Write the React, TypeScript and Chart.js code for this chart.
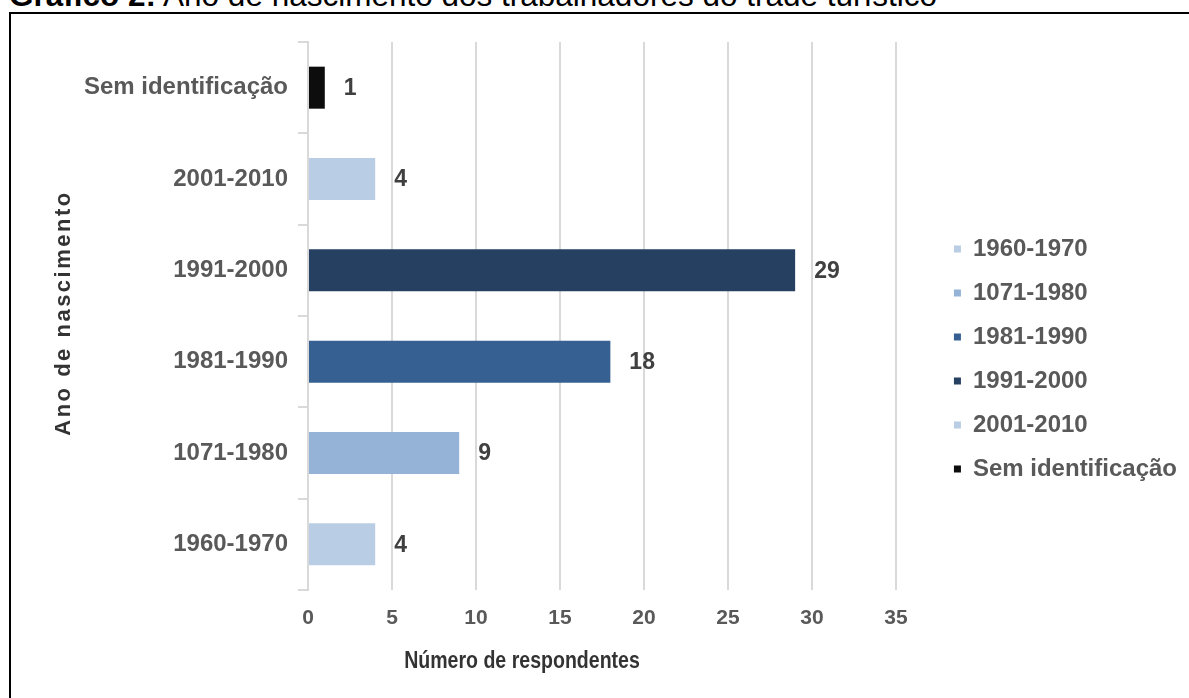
import React, { useEffect, useRef } from "react";
import { Chart, registerables } from "chart.js";

Chart.register(...registerables);

// ---- data ----
const categories = ["1960-1970", "1071-1980", "1981-1990", "1991-2000", "2001-2010", "Sem identificação"];
const respondents = [4, 9, 18, 29, 4, 1];
const barColors = ["#b9cde5", "#95b3d7", "#366092", "#254061", "#b9cde5", "#0d0d0d"];
const xTicks = [0, 5, 10, 15, 20, 25, 30, 35];
const xMin = 0;
const xMax = 35;
const figureLabel = "Gráfico 2:";
const figureCaption = " Ano de nascimento dos trabalhadores do trade turístico";
const xAxisTitle = "Número de respondentes";
const yAxisTitle = "Ano de nascimento";

const FONT = "'Liberation Sans', Arial, sans-serif";

const valueLabels = {
  id: "valueLabels",
  afterDatasetsDraw(chart: any) {
    const { ctx } = chart;
    const meta = chart.getDatasetMeta(0);
    ctx.save();
    ctx.font = `bold 23px ${FONT}`;
    ctx.fillStyle = "#404040";
    ctx.textAlign = "left";
    ctx.textBaseline = "middle";
    meta.data.forEach((bar: any, i: number) => {
      ctx.fillText(String(respondents[i]), bar.x + 19, bar.y + 1);
    });
    ctx.restore();
  },
};

const axisTitles = {
  id: "axisTitles",
  afterDraw(chart: any) {
    const { ctx, chartArea } = chart;
    // x axis title (condensed look)
    ctx.save();
    ctx.fillStyle = "#333333";
    ctx.textAlign = "center";
    ctx.textBaseline = "alphabetic";
    ctx.font = `bold 23px ${FONT}`;
    ctx.translate(522, 668);
    ctx.scale(0.85, 1);
    ctx.fillText(xAxisTitle, 0, 0);
    ctx.restore();
    // y axis title
    ctx.save();
    ctx.fillStyle = "#333333";
    ctx.textAlign = "center";
    ctx.textBaseline = "alphabetic";
    ctx.translate(70, (chartArea.top + chartArea.bottom) / 2 - 3);
    ctx.rotate(-Math.PI / 2);
    ctx.font = `bold 22px ${FONT}`;
    try {
      (ctx as any).letterSpacing = "2.5px";
    } catch (e) {}
    ctx.fillText(yAxisTitle, 0, 0);
    ctx.restore();
  },
};

export default function App() {
  const ref = useRef<HTMLCanvasElement | null>(null);

  useEffect(() => {
    if (!ref.current) return;
    const chart = new Chart(ref.current, {
      type: "bar",
      data: {
        labels: categories,
        datasets: [
          {
            data: respondents,
            backgroundColor: barColors,
            borderWidth: 0,
            barPercentage: 0.46,
            categoryPercentage: 1,
          },
        ],
      },
      options: {
        responsive: false,
        animation: false,
        devicePixelRatio: 1,
        indexAxis: "y",
        layout: { padding: { top: 42, bottom: 22, left: 0, right: 2 } },
        scales: {
          x: {
            type: "linear",
            position: "bottom",
            min: xMin,
            max: xMax,
            afterBuildTicks: (s: any) => {
              s.ticks = xTicks.map((v) => ({ value: v }));
            },
            ticks: {
              padding: 16,
              color: "#595959",
              font: { family: FONT, size: 21, weight: "bold" },
            },
            grid: { color: "#d9d9d9", lineWidth: 2, drawTicks: false },
            border: { display: false },
            afterFit: (s: any) => {
              s.height = 86;
            },
          },
          y: {
            type: "category",
            position: "left",
            reverse: true,
            ticks: {
              padding: 10,
              color: "#595959",
              font: { family: FONT, size: 24, weight: "bold" },
            },
            grid: {
              drawOnChartArea: false,
              drawTicks: true,
              tickLength: 10,
              color: "#d9d9d9",
              lineWidth: 2,
              offset: true,
            },
            border: { display: true, color: "#d9d9d9", width: 2 },
            afterFit: (s: any) => {
              s.width = 308;
            },
          },
          gap: {
            type: "linear",
            position: "right",
            display: true,
            ticks: { display: false },
            grid: { display: false },
            border: { display: false },
            afterFit: (s: any) => {
              s.width = 38;
            },
          },
        },
        plugins: {
          legend: {
            position: "right",
            align: "center",
            maxWidth: 400,
            onClick: () => {},
            labels: {
              boxWidth: 7,
              boxHeight: 7,
              padding: 20,
              color: "#595959",
              font: { family: FONT, size: 24, weight: "bold" },
              generateLabels: () =>
                categories.map((c, i) => ({
                  text: c,
                  fillStyle: barColors[i],
                  strokeStyle: barColors[i],
                  lineWidth: 0,
                  hidden: false,
                  index: i,
                  datasetIndex: 0,
                  fontColor: "#595959",
                })),
            },
          },
          tooltip: { enabled: false },
          title: { display: false },
        },
      } as any,
      plugins: [valueLabels, axisTitles],
    });
    return () => chart.destroy();
  }, []);

  return (
    <div
      style={{
        position: "fixed",
        left: 0,
        top: 0,
        width: 1189,
        height: 698,
        overflow: "hidden",
        background: "#ffffff",
      }}
    >
      <div
        style={{
          position: "absolute",
          left: 9,
          top: -21,
          whiteSpace: "nowrap",
          font: `31.5px/32px ${FONT}`,
          color: "#000000",
        }}
      >
        <b>{figureLabel}</b>
        {figureCaption}
      </div>
      <div
        style={{
          position: "absolute",
          left: 9,
          top: 12,
          width: 1400,
          height: 900,
          border: "2px solid #000000",
          boxSizing: "border-box",
        }}
      />
      <canvas
        ref={ref}
        width={1189}
        height={698}
        style={{ position: "absolute", left: 0, top: 0, width: 1189, height: 698 }}
      />
    </div>
  );
}
